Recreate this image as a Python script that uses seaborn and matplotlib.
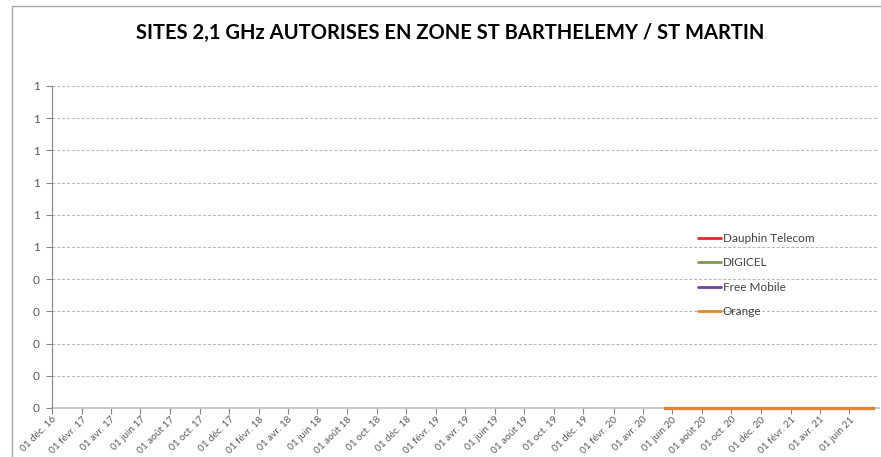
import pandas as pd
import numpy as np
import matplotlib
matplotlib.use("Agg")
import matplotlib.pyplot as plt
import seaborn as sns
from matplotlib.patches import Rectangle

# ---------------- data ----------------
operators = ["Dauphin Telecom", "DIGICEL", "Free Mobile", "Orange"]
series_dates = ["2020-05-18", "2021-07-19"]
dauphin_values = [0, 0]
digicel_values = [0, 0]
free_values = [0, 0]
orange_values = [0, 0]
colors = ["#E3262B", "#7F9A48", "#7340A3", "#E3862F"]

tick_dates = ["2016-12-01", "2017-02-01", "2017-04-01", "2017-06-01", "2017-08-01",
              "2017-10-01", "2017-12-01", "2018-02-01", "2018-04-01", "2018-06-01",
              "2018-08-01", "2018-10-01", "2018-12-01", "2019-02-01", "2019-04-01",
              "2019-06-01", "2019-08-01", "2019-10-01", "2019-12-01", "2020-02-01",
              "2020-04-01", "2020-06-01", "2020-08-01", "2020-10-01", "2020-12-01",
              "2021-02-01", "2021-04-01", "2021-06-01"]
tick_labels = ["01 déc. 16", "01 févr. 17", "01 avr. 17", "01 juin 17", "01 août 17",
               "01 oct. 17", "01 déc. 17", "01 févr. 18", "01 avr. 18", "01 juin 18",
               "01 août 18", "01 oct. 18", "01 déc. 18", "01 févr. 19", "01 avr. 19",
               "01 juin 19", "01 août 19", "01 oct. 19", "01 déc. 19", "01 févr. 20",
               "01 avr. 20", "01 juin 20", "01 août 20", "01 oct. 20", "01 déc. 20",
               "01 févr. 21", "01 avr. 21", "01 juin 21"]
y_ticks = [0, 0.1, 0.2, 0.3, 0.4, 0.5, 0.6, 0.7, 0.8, 0.9, 1.0]
y_labels = ["0", "0", "0", "0", "0", "1", "1", "1", "1", "1", "1"]
title = "SITES 2,1 GHz AUTORISES EN ZONE ST BARTHELEMY / ST MARTIN"

# ---------------- build table ----------------
values = [dauphin_values, digicel_values, free_values, orange_values]
rows = []
for op, vals in zip(operators, values):
    for d, v in zip(series_dates, vals):
        rows.append({"date": pd.Timestamp(d), "value": v, "operator": op})
df = pd.DataFrame(rows)

sns.set_theme(style="white")
plt.rcParams["font.family"] = ["Lato", "DejaVu Sans"]

W, H = 881, 457
fig = plt.figure(figsize=(W / 100, H / 100), dpi=100)
fig.patch.set_facecolor("white")

# outer chart border (left & top visible)
fig.patches.append(Rectangle((12 / W, -0.1), 1.2, (H - 6) / H + 0.1,
                             transform=fig.transFigure, fill=False,
                             edgecolor="#A6A6A6", linewidth=1.0))

ax = fig.add_axes([52 / W, (H - 408) / H, (879 - 52) / W, (408 - 86) / H])

sns.lineplot(data=df, x="date", y="value", hue="operator", hue_order=operators,
             palette=colors, linewidth=2.2, ax=ax)
for ln in ax.get_lines():
    ln.set_clip_on(False)
    ln.set_zorder(5)

ax.set_xlim(pd.Timestamp("2016-12-01"), pd.Timestamp("2021-08-01"))
ax.set_ylim(0, 1.0)

ax.set_yticks(y_ticks)
ax.set_yticklabels(y_labels, fontsize=8.5, color="#595959")
ax.set_xticks([pd.Timestamp(d) for d in tick_dates])
ax.set_xticklabels(tick_labels, rotation=45, ha="right", rotation_mode="anchor",
                   fontsize=7.2, color="#595959")

ax.tick_params(axis="y", which="both", left=True, length=4, width=0.8,
               color="#868686", pad=5)
ax.tick_params(axis="x", which="both", bottom=True, length=4, width=0.8,
               color="#868686", pad=1)

for y in y_ticks[1:]:
    ax.axhline(y, color="#B4B4B4", linestyle=(0, (3, 2)), linewidth=0.7, zorder=0)

for side in ["top", "right"]:
    ax.spines[side].set_visible(False)
ax.spines["left"].set_color("#868686")
ax.spines["bottom"].set_color("#BFBFBF")
ax.spines["left"].set_linewidth(0.8)
ax.spines["bottom"].set_linewidth(1.2)
ax.spines["bottom"].set_zorder(1)

ax.set_xlabel("")
ax.set_ylabel("")

handles, labels = ax.get_legend_handles_labels()
for h in handles:
    h.set_linewidth(2.0)
leg = ax.legend(handles, labels, loc="upper left",
                bbox_to_anchor=((693 - 52) / (879 - 52), (408 - 228) / (408 - 86)),
                frameon=False, fontsize=8.5, handlelength=2.0, handletextpad=0.1,
                labelspacing=1.15, borderaxespad=0)
for t in leg.get_texts():
    t.set_color("#404040")

fig.text(450 / W, 1 - 33 / H, title, ha="center", va="center",
         fontsize=14.5, fontweight="bold", color="#000000")

fig.savefig("out.png", dpi=100)
